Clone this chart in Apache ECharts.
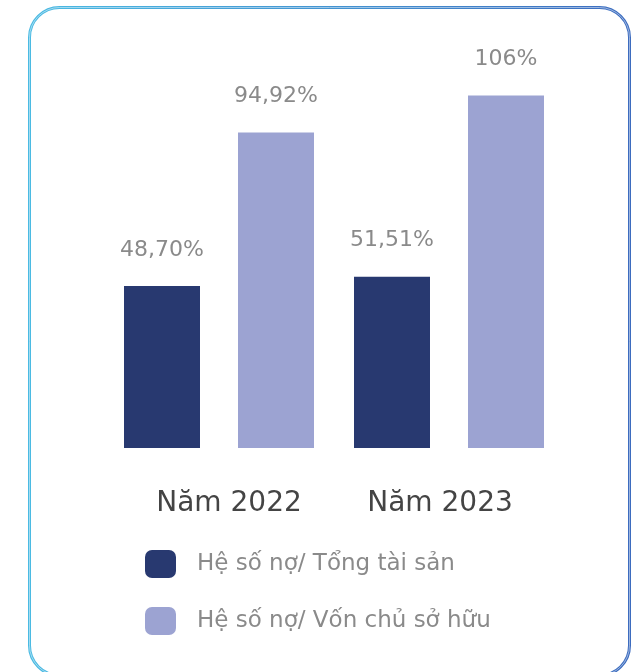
<!DOCTYPE html>
<html>
<head>
<meta charset="utf-8">
<script src="https://cdn.jsdelivr.net/npm/echarts@6/dist/echarts.min.js"></script>
<style>
  html, body { margin: 0; padding: 0; background: #fff; }
  #chart { width: 642px; height: 672px; }
</style>
</head>
<body>
<div id="chart"></div>
<script>
// data
var years = ['Năm 2022', 'Năm 2023'];
var seriesNames = ['Hệ số nợ/ Tổng tài sản', 'Hệ số nợ/ Vốn chủ sở hữu'];
var debtAssets = [48.70, 51.51];
var debtEquity = [94.92, 106];

function pct(p) {
  var v = p.value;
  return (Number.isInteger(v) ? String(v) : v.toFixed(2).replace('.', ',')) + '%';
}

var chart = echarts.init(document.getElementById('chart'));

var labelStyle = {
  show: true,
  position: 'top',
  distance: 25,
  formatter: pct,
  color: '#8a8a8a',
  fontSize: 22,
  fontFamily: 'DejaVu Sans'
};

var option = {
  animation: false,
  textStyle: { fontFamily: 'DejaVu Sans' },
  grid: { left: 104, right: 78, top: 49, bottom: 224 },
  xAxis: {
    type: 'category',
    data: years,
    axisLine: { show: false },
    axisTick: { show: false },
    axisLabel: {
      interval: 0,
      color: '#444',
      fontSize: 28,
      margin: 42,
      // first label sits a bit right of its bars, second a bit left
      formatter: function (v, i) { return i === 0 ? '{a|' + v + '}' : '{b|' + v + '}'; },
      rich: {
        a: { fontSize: 28, color: '#444', padding: [0, 0, 0, 20] },
        b: { fontSize: 28, color: '#444', padding: [0, 18, 0, 0] }
      }
    }
  },
  yAxis: {
    type: 'value',
    min: 0,
    max: 120,
    show: false,
    splitLine: { show: false }
  },
  legend: {
    orient: 'vertical',
    left: 140,
    top: 545,
    itemWidth: 31,
    itemHeight: 28,
    itemGap: 29,
    icon: 'roundRect',
    textStyle: { color: '#8a8a8a', fontSize: 23, padding: [0, 0, 0, 16] },
    data: seriesNames
  },
  series: [
    {
      name: seriesNames[0],
      type: 'bar',
      data: debtAssets,
      barWidth: 76,
      barGap: '50%',
      itemStyle: { color: '#283970' },
      label: labelStyle
    },
    {
      name: seriesNames[1],
      type: 'bar',
      data: debtEquity,
      barWidth: 76,
      itemStyle: { color: '#9ca3d2' },
      label: labelStyle
    }
  ],
  graphic: [
    {
      type: 'rect',
      shape: { x: 29.5, y: 7.5, width: 600, height: 668, r: 30 },
      style: {
        fill: 'none',
        lineWidth: 3,
        stroke: new echarts.graphic.LinearGradient(0, 0, 1, 0, [
          { offset: 0, color: '#4bbbe3' },
          { offset: 1, color: '#3d6cbf' }
        ])
      }
    },
    {
      type: 'rect',
      shape: { x: 29.5, y: 7.5, width: 600, height: 668, r: 30 },
      style: { fill: 'none', lineWidth: 0.7, stroke: 'rgba(255,255,255,0.7)' }
    }
  ]
};

chart.setOption(option);
</script>
</body>
</html>
